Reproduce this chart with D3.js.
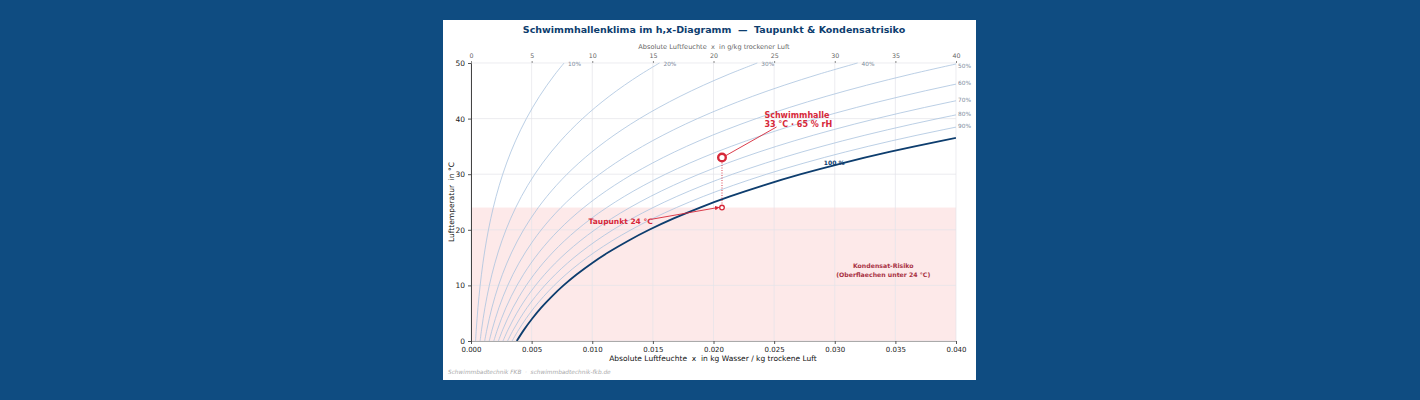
<!DOCTYPE html>
<html>
<head>
<meta charset="utf-8">
<script src="https://cdn.jsdelivr.net/npm/d3@7"></script>
<style>
  html, body { margin: 0; padding: 0; background: #0f4c81; }
  svg { display: block; font-family: "DejaVu Sans", sans-serif; }
</style>
</head>
<body>
<svg id="chart"></svg>
<script>
const width = 1420;
const height = 400;

// Sättigungsdampfdruck (kPa) über Wasser
const tempsC = [0, 2, 4, 6, 8, 10, 12, 14, 16, 18, 20, 22, 24, 26, 28, 30, 32, 34, 36, 38, 40, 42, 44, 46, 48, 50];
const satPressureKPa = [0.611, 0.706, 0.814, 0.935, 1.073, 1.228, 1.403, 1.599, 1.819, 2.065, 2.339, 2.645, 2.986, 3.364, 3.784, 4.247, 4.760, 5.325, 5.948, 6.633, 7.385, 8.210, 9.112, 10.099, 11.177, 12.352];
const rhLevels = [10, 20, 30, 40, 50, 60, 70, 80, 90, 100];
const xTicks = [0, 0.005, 0.010, 0.015, 0.020, 0.025, 0.030, 0.035, 0.040];
const gkgTicks = [0, 5, 10, 15, 20, 25, 30, 35, 40];
const yTicks = [0, 10, 20, 30, 40, 50];
const hallPoint = { x: 0.0207, t: 33 };
const dewPoint = { x: 0.0207, t: 24 };
const riskLimit = 24;
const pressure = 101.325;

const svg = d3.select('#chart')
  .attr('width', width)
  .attr('height', height);

// weisses Panel
svg.append('rect')
  .attr('x', 443).attr('y', 20)
  .attr('width', 533).attr('height', 360)
  .attr('fill', '#ffffff');

const plotLeft = 471, plotRight = 956, plotTop = 63, plotBottom = 341;

const xScale = d3.scaleLinear().domain([0, 0.04]).range([plotLeft, plotRight]);
const xTop = d3.scaleLinear().domain([0, 40]).range([plotLeft, plotRight]);
const yScale = d3.scaleLinear().domain([0, 50]).range([plotBottom, plotTop]);

const red = '#d62839';
const navy = '#0d3d6e';

// Titel
svg.append('text')
  .attr('x', 714).attr('y', 32.5)
  .attr('text-anchor', 'middle')
  .attr('font-size', 9.5)
  .attr('font-weight', 'bold')
  .attr('fill', navy)
  .style('white-space', 'pre')
  .text('Schwimmhallenklima im h,x-Diagramm  —  Taupunkt & Kondensatrisiko');

// Kondensat-Risiko Bereich
svg.append('rect')
  .attr('x', xScale(0)).attr('y', yScale(riskLimit))
  .attr('width', xScale(0.04) - xScale(0))
  .attr('height', yScale(0) - yScale(riskLimit))
  .attr('fill', '#fde9e9');

// Gitter
const grid = svg.append('g');
grid.selectAll('.gx').data(xTicks).enter().append('line')
  .attr('x1', d => xScale(d)).attr('x2', d => xScale(d))
  .attr('y1', plotTop).attr('y2', plotBottom)
  .attr('stroke', '#e4e4ea').attr('stroke-width', 0.7);
grid.selectAll('.gy').data(yTicks).enter().append('line')
  .attr('x1', plotLeft).attr('x2', plotRight)
  .attr('y1', d => yScale(d)).attr('y2', d => yScale(d))
  .attr('stroke', '#e4e4ea').attr('stroke-width', 0.7);

// Kurven relative Feuchte
svg.append('clipPath').attr('id', 'plotclip')
  .append('rect')
  .attr('x', plotLeft).attr('y', plotTop - 1)
  .attr('width', plotRight - plotLeft).attr('height', plotBottom - plotTop + 1);

function humidityRatio(ps, rh) {
  const pv = ps * rh / 100;
  return 0.622 * pv / (pressure - pv);
}

const curves = rhLevels.map(rh => ({
  rh: rh,
  pts: tempsC.map((t, i) => ({ t: t, x: humidityRatio(satPressureKPa[i], rh) }))
}));

const line = d3.line()
  .x(d => xScale(d.x))
  .y(d => yScale(d.t))
  .curve(d3.curveCatmullRom);

const curveG = svg.append('g').attr('clip-path', 'url(#plotclip)');
curveG.selectAll('path').data(curves).enter().append('path')
  .attr('d', d => line(d.pts))
  .attr('fill', 'none')
  .attr('stroke', d => d.rh === 100 ? navy : '#aac3de')
  .attr('stroke-width', d => d.rh === 100 ? 1.8 : 0.8);

// Beschriftung der Kurven
curves.filter(c => c.rh < 100).forEach(c => {
  const last = c.pts[c.pts.length - 1];
  let lx, ly;
  if (last.x <= 0.04) {
    lx = xScale(last.x) + 4;
    ly = yScale(50) + 3;
  } else {
    let k = 1;
    while (c.pts[k].x < 0.04) k++;
    const a = c.pts[k - 1], b = c.pts[k];
    const t = a.t + (0.04 - a.x) / (b.x - a.x) * (b.t - a.t);
    lx = xScale(0.04) + 2;
    ly = yScale(t) + (c.rh === 50 ? 4 : 1);
  }
  svg.append('text')
    .attr('x', lx).attr('y', ly)
    .attr('font-size', 5.8)
    .attr('fill', '#7d8b9c')
    .text(c.rh + '%');
});

svg.append('text')
  .attr('x', xScale(0.0291)).attr('y', yScale(32) + 2)
  .attr('font-size', 6)
  .attr('font-weight', 'bold')
  .attr('fill', navy)
  .text('100 %');

// Achsen
const xAxis = d3.axisBottom(xScale).tickValues(xTicks).tickFormat(d3.format('.3f')).tickSize(3);
const gx = svg.append('g').attr('transform', `translate(0, ${plotBottom})`).call(xAxis);
gx.select('.domain').attr('stroke', '#aaaaaa');
gx.selectAll('.tick line').attr('stroke', '#555');
gx.selectAll('text').attr('font-size', 7).attr('fill', '#222').attr('font-family', 'DejaVu Sans');

const yAxis = d3.axisLeft(yScale).tickValues(yTicks).tickSize(3);
const gy = svg.append('g').attr('transform', `translate(${plotLeft}, 0)`).call(yAxis);
gy.select('.domain').attr('stroke', '#444');
gy.selectAll('.tick line').attr('stroke', '#555');
gy.selectAll('text').attr('font-size', 7.5).attr('fill', '#222').attr('font-family', 'DejaVu Sans');

const topAxis = d3.axisTop(xTop).tickValues(gkgTicks).tickSize(2);
const gt = svg.append('g').attr('transform', `translate(0, ${plotTop})`).call(topAxis);
gt.select('.domain').remove();
gt.selectAll('.tick line').attr('stroke', '#888');
gt.selectAll('text').attr('font-size', 6.3).attr('fill', '#666').attr('font-family', 'DejaVu Sans');

// Achsentitel
svg.append('text')
  .attr('x', 713).attr('y', 361)
  .attr('text-anchor', 'middle')
  .attr('font-size', 7.5)
  .attr('fill', '#111')
  .style('white-space', 'pre')
  .text('Absolute Luftfeuchte  x  in kg Wasser / kg trockene Luft');

svg.append('text')
  .attr('x', 714).attr('y', 49)
  .attr('text-anchor', 'middle')
  .attr('font-size', 6.6)
  .attr('fill', '#666')
  .style('white-space', 'pre')
  .text('Absolute Luftfeuchte  x  in g/kg trockener Luft');

svg.append('text')
  .attr('transform', 'translate(454, 202) rotate(-90)')
  .attr('text-anchor', 'middle')
  .attr('font-size', 7.5)
  .attr('fill', '#111')
  .style('white-space', 'pre')
  .text('Lufttemperatur  in °C');

// Markierungen
svg.append('defs').append('marker')
  .attr('id', 'arrow')
  .attr('viewBox', '0 0 10 10')
  .attr('refX', 10).attr('refY', 5)
  .attr('markerWidth', 5).attr('markerHeight', 5)
  .attr('orient', 'auto')
  .append('path')
  .attr('d', 'M0,0 L10,5 L0,10 z')
  .attr('fill', red);

svg.append('line')
  .attr('x1', xScale(hallPoint.x)).attr('x2', xScale(dewPoint.x))
  .attr('y1', yScale(hallPoint.t) + 5).attr('y2', yScale(dewPoint.t) - 3)
  .attr('stroke', red).attr('stroke-width', 0.9)
  .attr('stroke-dasharray', '1,1.5');

svg.append('line')
  .attr('x1', xScale(0.0252)).attr('y1', yScale(38.5))
  .attr('x2', xScale(hallPoint.x) + 4).attr('y2', yScale(hallPoint.t) - 2)
  .attr('stroke', red).attr('stroke-width', 0.9);

svg.append('line')
  .attr('x1', xScale(0.0149)).attr('y1', yScale(21.9))
  .attr('x2', xScale(dewPoint.x) - 2.5).attr('y2', yScale(dewPoint.t) - 0.3)
  .attr('stroke', red).attr('stroke-width', 0.9)
  .attr('marker-end', 'url(#arrow)');

svg.append('circle')
  .attr('cx', xScale(hallPoint.x)).attr('cy', yScale(hallPoint.t))
  .attr('r', 3.8)
  .attr('fill', '#fff')
  .attr('stroke', red).attr('stroke-width', 2.4);

svg.append('circle')
  .attr('cx', xScale(dewPoint.x)).attr('cy', yScale(dewPoint.t))
  .attr('r', 2.3)
  .attr('fill', '#fff')
  .attr('stroke', red).attr('stroke-width', 1.3);

const hallText = svg.append('text')
  .attr('font-size', 8)
  .attr('font-weight', 'bold')
  .attr('fill', red);
hallText.append('tspan').attr('x', xScale(0.0242)).attr('y', yScale(40.1)).text('Schwimmhalle');
hallText.append('tspan').attr('x', xScale(0.0242)).attr('y', yScale(38.45)).text('33 °C · 65 % rH');

svg.append('text')
  .attr('x', xScale(0.0097)).attr('y', yScale(21.1))
  .attr('font-size', 7.5)
  .attr('font-weight', 'bold')
  .attr('fill', red)
  .text('Taupunkt 24 °C');

const riskText = svg.append('text')
  .attr('text-anchor', 'middle')
  .attr('font-size', 6.2)
  .attr('font-weight', 'bold')
  .attr('fill', '#a83244');
riskText.append('tspan').attr('x', xScale(0.0340)).attr('y', yScale(13.1)).text('Kondensat-Risiko');
riskText.append('tspan').attr('x', xScale(0.0340)).attr('y', yScale(11.6)).text('(Oberflaechen unter 24 °C)');

// Fusszeile
svg.append('text')
  .attr('x', 448).attr('y', 374)
  .attr('font-size', 5.8)
  .attr('font-style', 'italic')
  .attr('fill', '#aaaaaa')
  .style('white-space', 'pre')
  .text('Schwimmbadtechnik FKB  ·  schwimmbadtechnik-fkb.de');
</script>
</body>
</html>
